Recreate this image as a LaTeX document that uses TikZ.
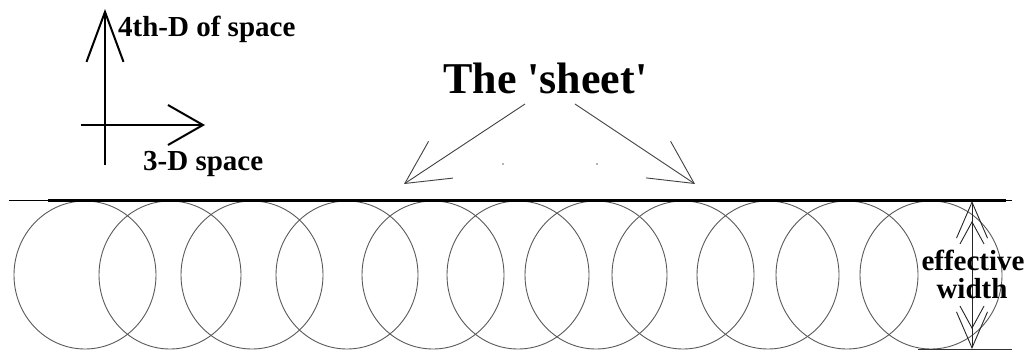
\documentclass[tikz,border=0pt]{standalone}
\usepackage{fontspec}
\setmainfont{Liberation Serif}
\usetikzlibrary{arrows.meta,positioning}
\tikzset{
  axis style/.style={line width=2pt},
  ptr style/.style={line width=0.9pt, black!75, -{Straight Barb[length=43pt,width=44pt]}},
  circ style/.style={line width=0.9pt, black!65},
  lbl style/.style={inner sep=0pt, font=\bfseries\fontsize{29}{30}\selectfont},
  title style/.style={inner sep=0pt, font=\bfseries\fontsize{44}{46}\selectfont},
  sheet style/.style={line width=3pt},
  dim style/.style={line width=0.9pt, black!85,
    {Straight Barb[length=36pt,width=31pt]}-{Straight Barb[length=36pt,width=31pt]}},
  dim inner style/.style={line width=0.9pt, black!85, shorten <=20pt, shorten >=20pt,
    {Straight Barb[length=22pt,width=24pt]}-{Straight Barb[length=22pt,width=24pt]}}
}

\begin{document}
\begin{tikzpicture}[x=1pt,y=-1pt]
\useasboundingbox (0,0) rectangle (1030,351);
% axes
\coordinate (vlow) at (105,165);
\coordinate (vtip) at (105,9);
\coordinate (hlow) at (81,125);
\coordinate (htip) at (205,125);
\draw[axis style, -{Straight Barb[length=50pt,width=37pt]}] (vlow) -- (vtip);
\draw[axis style, -{Straight Barb[length=35pt,width=40pt]}] (hlow) -- (htip);
\node[lbl style, anchor=base west] (fourth) at (118,36) {4th-D of space};
\node[lbl style, anchor=base west] (three) at (143,170) {3-D space};
% the overlapping circles
\foreach \cx in {85,170,252,347,433,518,596,683,768,847,931}
  \draw[circ style] (\cx,275) ellipse (71 and 74);
% sheet line
\coordinate (sl) at (9,200);
\coordinate (sr) at (1012,200);
\coordinate (tl) at (48,200);
\coordinate (tr) at (1006,200);
\draw[line width=1pt] (sl) -- (sr);
\draw[sheet style] (tl) -- (tr);
% title and pointers
\node[title style, anchor=base west] (title) at (443,93) {The \textquotesingle sheet\textquotesingle};
\coordinate (lfrom) at (525,104);
\coordinate (lto) at (404,184);
\coordinate (rfrom) at (575,104);
\coordinate (rto) at (695,184);
\draw[ptr style] (lfrom) -- (lto);
\draw[ptr style] (rfrom) -- (rto);
\fill[black!60] (503,164) circle (0.8);
\fill[black!60] (597,164) circle (0.8);
% effective width
\coordinate (wt) at (972,201);
\coordinate (wb) at (972,349);
\coordinate (bl) at (918,349);
\coordinate (br) at (1012,349);
\draw[line width=1pt, black!80] (bl) -- (br);
\draw[dim style] (wb) -- (wt);
\draw[dim inner style] (wb) -- (wt);
\node[lbl style, anchor=base] (eff) at (973,270) {effective};
\node[lbl style, anchor=base] (wid) at (972,298) {width};
\end{tikzpicture}
\end{document}
